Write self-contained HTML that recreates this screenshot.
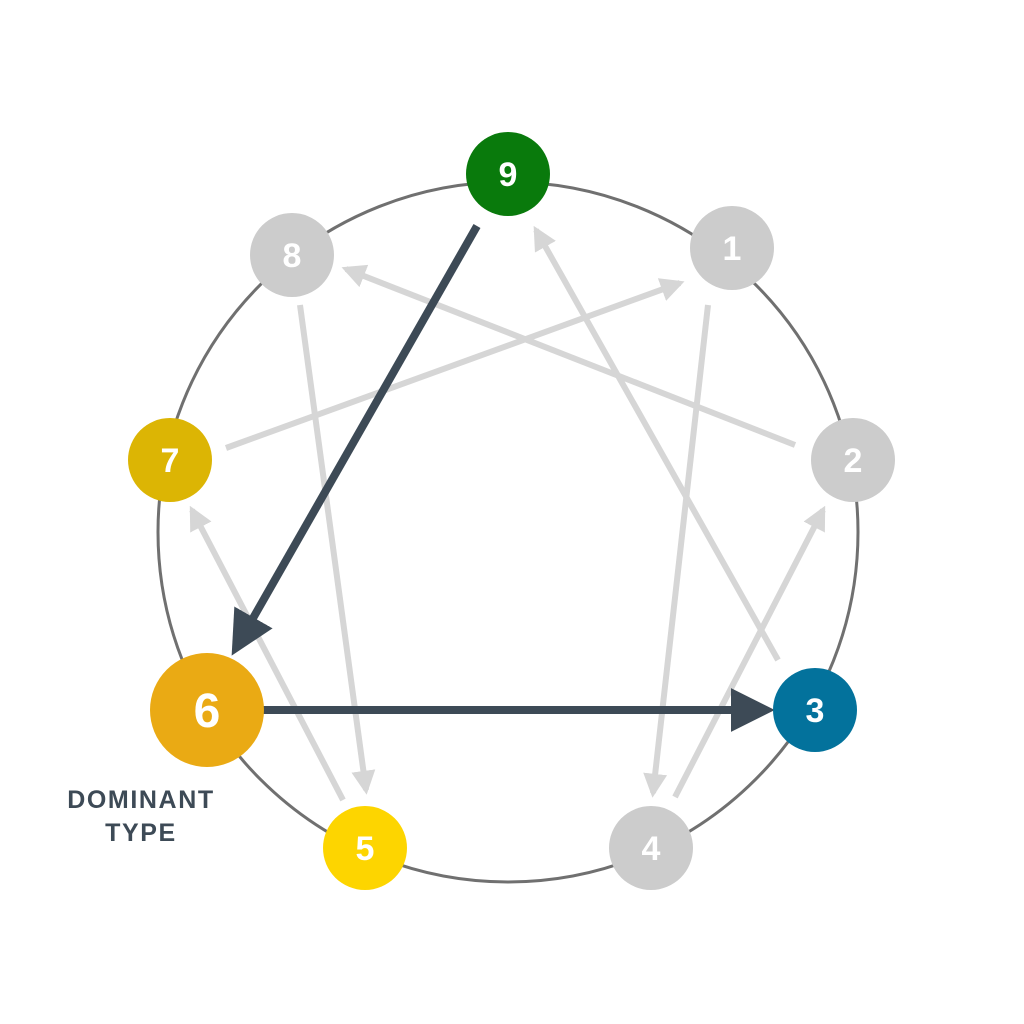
<!DOCTYPE html>
<html><head><style>
html,body{margin:0;padding:0;background:#fff;}
svg{display:block;}
text{font-family:"Liberation Sans",sans-serif;font-weight:bold;}
</style></head><body>
<svg width="1024" height="1024" viewBox="0 0 1024 1024" xmlns="http://www.w3.org/2000/svg">
<defs>
<marker id="ga" viewBox="0 0 10 10" refX="8" refY="5" markerWidth="4" markerHeight="4" orient="auto" markerUnits="strokeWidth"><path d="M0,0 L10,5 L0,10 z" fill="#d6d6d6"/></marker>
<marker id="da" viewBox="0 0 10 10" refX="8" refY="5" markerWidth="5.5" markerHeight="5.5" orient="auto" markerUnits="strokeWidth"><path d="M0,0 L10,5 L0,10 z" fill="#3d4a56"/></marker>
</defs>
<circle cx="508" cy="532" r="350" fill="none" stroke="#707070" stroke-width="3"/>
<g stroke="#d6d6d6" stroke-width="6" fill="none">
<line x1="300" y1="305" x2="366" y2="790" marker-end="url(#ga)"/>
<line x1="226" y1="448" x2="680" y2="283" marker-end="url(#ga)"/>
<line x1="795" y1="445" x2="346" y2="269" marker-end="url(#ga)"/>
<line x1="778" y1="660" x2="536" y2="230" marker-end="url(#ga)"/>
<line x1="708" y1="305" x2="653" y2="793" marker-end="url(#ga)"/>
<line x1="675" y1="797" x2="823" y2="510" marker-end="url(#ga)"/>
<line x1="343" y1="800" x2="192" y2="510" marker-end="url(#ga)"/>
</g>
<g stroke="#3d4a56" stroke-width="8" fill="none">
<line x1="477" y1="226" x2="236" y2="648" marker-end="url(#da)"/>
<line x1="262" y1="710" x2="766" y2="710" marker-end="url(#da)"/>
</g>
<circle cx="508" cy="174" r="42" fill="#097a0c"/>
<circle cx="292" cy="255" r="42" fill="#cccccc"/>
<circle cx="732" cy="248" r="42" fill="#cccccc"/>
<circle cx="170" cy="460" r="42" fill="#dcb504"/>
<circle cx="853" cy="460" r="42" fill="#cccccc"/>
<circle cx="207" cy="710" r="57" fill="#eaaa14"/>
<circle cx="815" cy="710" r="42" fill="#03729c"/>
<circle cx="365" cy="848" r="42" fill="#fdd500"/>
<circle cx="651" cy="848" r="42" fill="#cccccc"/>
<g fill="#fff" text-anchor="middle" font-size="34">
<text x="508" y="186">9</text>
<text x="292" y="267">8</text>
<text x="732" y="260">1</text>
<text x="170" y="472">7</text>
<text x="853" y="472">2</text>
<text x="207" y="727" font-size="48">6</text>
<text x="815" y="722">3</text>
<text x="365" y="860">5</text>
<text x="651" y="860">4</text>
</g>
<g fill="#3d4a56" text-anchor="middle" font-size="25" letter-spacing="1.6">
<text x="141" y="808">DOMINANT</text>
<text x="141" y="841">TYPE</text>
</g>
</svg>
</body></html>
